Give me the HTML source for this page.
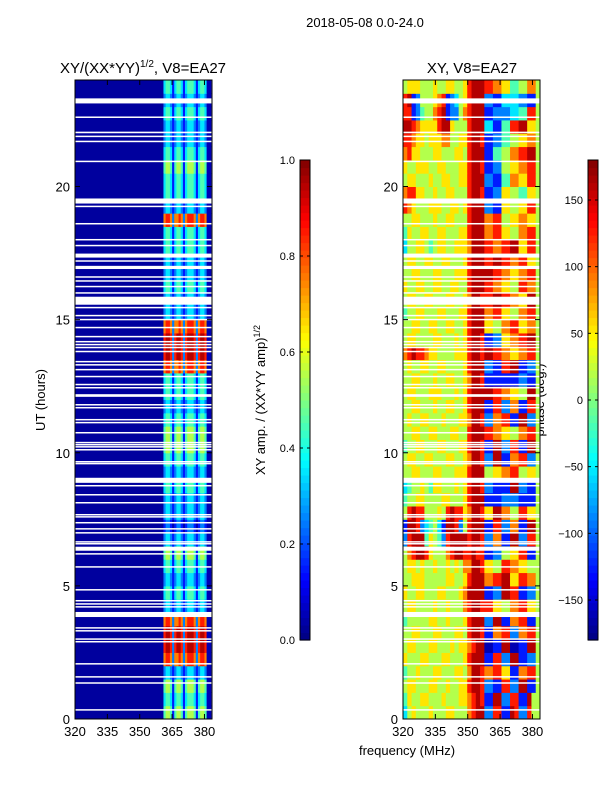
<!DOCTYPE html>
<html><head><meta charset="utf-8"><style>
body{margin:0;background:#fff;width:600px;height:800px;overflow:hidden;font-family:"Liberation Sans",sans-serif}
svg text{font-family:"Liberation Sans","DejaVu Sans",sans-serif;fill:#000}
</style></head><body>
<svg id="fig" width="600" height="800" xmlns="http://www.w3.org/2000/svg">
<rect width="600" height="800" fill="#fff"/>
<text x="365" y="27" font-size="13" text-anchor="middle">2018-05-08 0.0-24.0</text>
<text x="143" y="73" font-size="15" text-anchor="middle">XY/(XX*YY)<tspan font-size="10" dy="-6">1/2</tspan><tspan dy="6">, V8=EA27</tspan></text>
<text x="472" y="73" font-size="15" text-anchor="middle">XY, V8=EA27</text>
<text transform="translate(45,400) rotate(-90)" font-size="13" text-anchor="middle">UT (hours)</text>
<text transform="translate(265,400) rotate(-90)" font-size="13" text-anchor="middle">XY amp. / (XX*YY amp)<tspan font-size="9" dy="-5">1/2</tspan></text>
<text transform="translate(544,400) rotate(-90)" font-size="13" text-anchor="middle">phase (deg.)</text>
<text x="407" y="755" font-size="13" text-anchor="middle">frequency (MHz)</text>
<g id="g"></g>
</svg>
<script>
// ---- data ----
const xTicks=[320,335,350,365,380];
const yTicks=[0,5,10,15,20];
const ampTicks=[0.0,0.2,0.4,0.6,0.8,1.0];
const phaseTicks=[-150,-100,-50,0,50,100,150];
const ampBase=0.03; // 320-361 MHz level
const ampBandStart=361; // band strings start freq, 1 MHz per char
const ampRows=[
"4554145541455541455400","3443134431344431344300","4554145541455541455400","2332123321233321233200",
"7887277872788872788700","8998289982899982899800","8998289982899982899800","7887277872788872788700",
"2332123321233321233200","3443134431344431344300","2332123321233321233200","3443134431344431344300",
"4554145541455541455400","2332123321233321233200","1221012210122210122100","2332123321233321233200",
"2332123321233321233200","3443134431344431344300","2332123321233321233200","3443134431344431344300",
"4554145541455541455400","4554145541455541455400","3443134431344431344300","2332123321233321233200",
"3443134431344431344300","3443134431344431344300","7887277872788872788700","8998289982899982899800",
"8998289982899982899800","7887277872788872788700","2332123321233321233200","2332123321233321233200",
"3443134431344431344300","2332123321233321233200","2332123321233321233200","3443134431344431344300",
"3443134431344431344300","7887277872788872788700","2332123321233321233200","3443134431344431344300",
"3443134431344431344300","4554145541455541455400","3443134431344431344300","2332123321233321233200",
"2332123321233321233200","3443134431344431344300","2332123321233321233200","3443134431344431344300"];
const phaseRows=[
"35655565556655578992288119822855","46556655565556678981199228811955","56655566556556689982211882299115","45565556655566579987788661177885",
"65556655566555689991188229911225","56655566555656678990011990011995","55665556655566589981177882277885","45555566556555689992299117788115",
"56655556556555789988866557788665","65566555665556799991122998811225","55666555556655689997788996688775","56656556556565779986655887766555",
"57899865557899889881122556688115","28999465428999989982277119922885","19982345319982589991188227711995","58988555658988679986699775588665",
"45566555566555689991111222211115","34556546655565689982211119922115","55665556655566689995566778855665","56655665556655679982299117788225",
"45566555665556689981199228811995","55665566555665589998877665577885","56556655565556679982277881199225","55665556556655689991188227711885",
"56655566655565689999988776655995","55665556556655679981111111122115","56556655665555689992211889911225","78988766555566689989988776677885",
"56655556655565689981122667788995","55665566556655689996655778866775","45566555665556689997788665577885","56655665556655679988899887766995",
"65566556655665589998877665588775","55665556655566689999988776677885","56655665566555689998899887788665","35566545665566679998877889966885",
"46556655665556689997788665577885","55665556556655589997788556677665","87655566655665689992211665566885","78866556556655589981122665544665",
"56655565566556689992211447766885","65566655665556689981122556677885","78665556655566589991144557788995","88766566677556689981122445566775",
"99876666899655589993311448899665","88124557891225789991122223344885","89125556781235689992211333322115","56665556556655689998877664455775"];
const flagged=[[23.12,23.31],[22.58,22.63],[22.0,22.06],[21.86,21.91],[21.67,21.72],[20.92,20.97],[19.36,19.55],[19.23,19.28],
[18.58,18.63],[17.98,18.03],[17.76,17.81],[17.33,17.48],[17.18,17.23],[16.9,17.02],[16.58,16.63],[16.43,16.48],[16.22,16.27],
[15.98,16.03],[15.56,15.86],[15.43,15.48],[15.13,15.18],[14.98,15.03],[14.68,14.73],[14.34,14.39],[14.15,14.2],[14.04,14.09],
[13.93,13.98],[13.78,13.83],[13.4,13.45],[13.28,13.33],[13.1,13.15],[12.84,12.89],[12.54,12.59],[12.42,12.47],[12.1,12.2],
[11.78,11.83],[11.67,11.72],[11.22,11.27],[11.11,11.16],[10.73,10.78],[10.36,10.41],[10.28,10.33],[10.2,10.25],[10.09,10.14],
[9.64,9.69],[9.57,9.62],[8.87,9.06],[8.74,8.79],[8.4,8.45],[8.1,8.15],[7.65,7.7],[7.57,7.62],[7.35,7.4],[7.12,7.17],[6.97,7.02],
[6.63,6.68],[6.56,6.61],[6.32,6.47],[6.18,6.23],[5.69,5.74],[4.83,4.88],[4.42,4.47],[4.3,4.35],[4.19,4.24],[3.83,4.02],
[3.4,3.45],[3.29,3.34],[2.98,3.03],[2.88,2.93],[2.05,2.1],[1.56,1.61],[1.33,1.38],[0.32,0.37]];
// ---- layout ----
const NS="http://www.w3.org/2000/svg";
const g=document.getElementById('g');
const Y0=719,Y1=80,FMIN=320,FMAX=383.5;
function yS(h){return Y0+(Y1-Y0)*h/24;}
function jet(v){const c=t=>Math.round(255*Math.max(0,Math.min(1,t)));
 return `rgb(${c(1.5-Math.abs(4*v-3))},${c(1.5-Math.abs(4*v-2))},${c(1.5-Math.abs(4*v-1))})`;}
function el(tag,attrs,parent){const e=document.createElementNS(NS,tag);for(const k in attrs)e.setAttribute(k,attrs[k]);(parent||g).appendChild(e);return e;}
function panel(X0,X1,name,drawCells){
 const xS=f=>X0+(X1-X0)*(f-FMIN)/(FMAX-FMIN);
 const pg=el('g',{});
 
 
 drawCells(xS,pg);
 flagged.forEach(([a,b])=>{const r=el('rect',{x:X0,y:yS(b),width:X1-X0,height:Math.max(1.5,yS(a)-yS(b)),fill:'#fff'},pg);
  
  });
 const fr=el('rect',{x:X0,y:Y1,width:X1-X0,height:Y0-Y1,fill:'none',stroke:'#000','stroke-width':1});
 
 
 xTicks.forEach(t=>{const x=xS(t);el('line',{x1:x,x2:x,y1:Y0,y2:Y0-5,stroke:'#000'});el('line',{x1:x,x2:x,y1:Y1,y2:Y1+5,stroke:'#000'});
  const tx=el('text',{x:x,y:Y0+17,'font-size':13,'text-anchor':'middle'});tx.textContent=t;
  
  });
 yTicks.forEach(t=>{const y=yS(t);el('line',{x1:X0,x2:X0+5,y1:y,y2:y,stroke:'#000'});el('line',{x1:X1,x2:X1-5,y1:y,y2:y,stroke:'#000'});
  const tx=el('text',{x:X0-5,y:y+5,'font-size':13,'text-anchor':'end'});tx.textContent=t;
  
  });
}
const rowH=24/ampRows.length;
panel(75,212,'amplitude-heatmap',(xS,pg)=>{
 ampRows.forEach((row,r)=>{
  const yt=yS((r+1)*rowH),yb=yS(r*rowH);
  const b=el('rect',{x:xS(FMIN),y:yt,width:xS(ampBandStart)-xS(FMIN)+0.5,height:yb-yt+0.5,fill:jet(ampBase)},pg);
  
  
  for(let c=0;c<row.length;c++){const f=ampBandStart+c;const v=(+row[c]+0.5)/10;
   const e=el('rect',{x:xS(f),y:yt,width:xS(Math.min(f+1,FMAX))-xS(f)+0.5,height:yb-yt+0.5,fill:jet(v)},pg);
   
   }
 });
});
const pRowH=24/phaseRows.length;
panel(403,540,'phase-heatmap',(xS,pg)=>{
 phaseRows.forEach((row,r)=>{
  const yt=yS((r+1)*pRowH),yb=yS(r*pRowH);const w=(FMAX-FMIN)/row.length;
  for(let c=0;c<row.length;c++){const f=FMIN+c*w;const v=(+row[c]+0.5)/10;
   const e=el('rect',{x:xS(f),y:yt,width:xS(f+w)-xS(f)+0.5,height:yb-yt+0.5,fill:jet(v)},pg);
   
   }
 });
});
function colorbar(x,name,ticks,vmin,vmax,fmt){
 const top=160,bot=640,w=10;
 const cg=el('g',{});
 
 
 const n=64;
 for(let i=0;i<n;i++){const y=bot-(i+1)*(bot-top)/n;el('rect',{x:x,y:y,width:w,height:(bot-top)/n+0.6,fill:jet((i+0.5)/n)},cg);}
 el('rect',{x:x,y:top,width:w,height:bot-top,fill:'none',stroke:'#000'},cg);
 ticks.forEach(t=>{const y=bot-(bot-top)*(t-vmin)/(vmax-vmin);
  el('line',{x1:x,x2:x+3,y1:y,y2:y,stroke:'#000'},cg);el('line',{x1:x+w,x2:x+w-3,y1:y,y2:y,stroke:'#000'},cg);
  const tx=el('text',{x:x-5,y:y+4,'font-size':11,'text-anchor':'end'},cg);tx.textContent=fmt(t);
  
  });
}
colorbar(300,'amp-colorbar',ampTicks,0,1,t=>t.toFixed(1));
colorbar(588,'phase-colorbar',phaseTicks,-180,180,t=>t<0?'\u2212'+(-t):''+t);
</script>
</body></html>
